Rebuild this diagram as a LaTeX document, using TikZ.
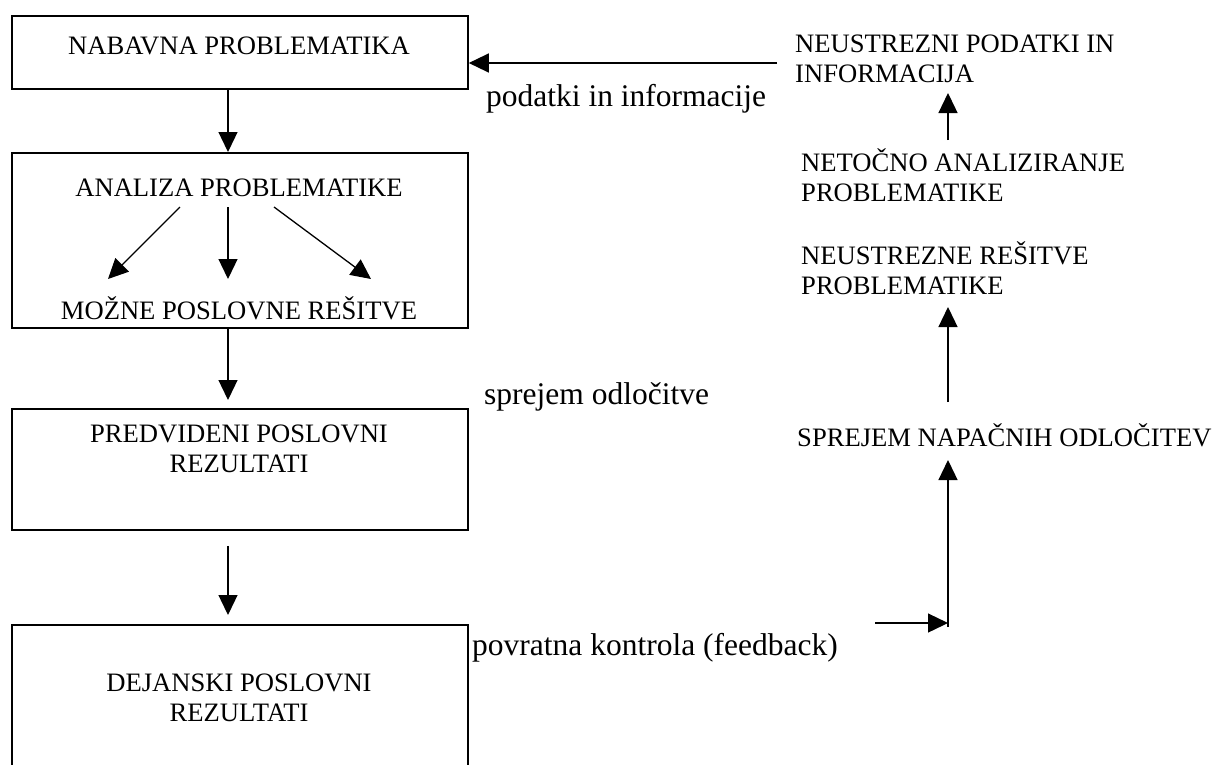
\documentclass[tikz,border=0pt]{standalone}
\usepackage{fontspec}
\setmainfont{Liberation Serif}
\usetikzlibrary{arrows.meta}
\begin{document}
\begin{tikzpicture}[x=1pt,y=-1pt,
  box/.style={draw, line width=1.8pt, inner sep=0pt, anchor=north west, minimum width=456pt},
  caps/.style={font=\fontsize{26.6}{29.5}\selectfont, inner sep=0pt, align=center, anchor=base},
  side/.style={font=\fontsize{26.6}{29.5}\selectfont, inner sep=0pt, align=left, anchor=base west},
  lbl/.style={font=\fontsize{31.5}{34}\selectfont, inner sep=0pt, anchor=base west},
  link/.style={line width=1.3pt},
  arr/.style={link, -{Triangle[length=20pt,width=19pt]}}
]
\useasboundingbox (0,0) rectangle (1220,764);
\clip (0,0) rectangle (1220,764);

% main column of boxes
\node[box, minimum height=73pt]  (b1) at (11,15)  {};
\node[box, minimum height=175pt] (b2) at (11,152) {};
\node[box, minimum height=121pt] (b3) at (11,408) {};
\node[box, minimum height=160pt] (b4) at (11,624) {};

% box texts (two-line nodes sit on the baseline of their last line)
\node[caps] (t1)  at (239,54)  {NABAVNA PROBLEMATIKA};
\node[caps] (t2)  at (239,196) {ANALIZA PROBLEMATIKE};
\node[caps] (t2b) at (239,319) {MOŽNE POSLOVNE REŠITVE};
\node[caps] (t3)  at (239,472) {PREDVIDENI POSLOVNI\\REZULTATI};
\node[caps] (t4)  at (239,721) {DEJANSKI POSLOVNI\\REZULTATI};

% axis of the downward arrows
\coordinate (c) at (228,0);
\draw[arr] (b1.south -| c) -- (b2.north -| c);
\draw[arr] (b2.south -| c) -- ([yshift=8pt]b3.north -| c);
\draw[arr] ([yshift=-15pt]b3.south -| c) -- ([yshift=9pt]b4.north -| c);

% branching inside the analysis box
\coordinate (s1) at (180,207); \coordinate (e1) at (108,279);
\coordinate (s2) at (228,207); \coordinate (e2) at (228,279);
\coordinate (s3) at (274,207); \coordinate (e3) at (371,279);
\draw[arr] (s1) -- (e1);
\draw[arr] (s2) -- (e2);
\draw[arr] (s3) -- (e3);

% labels between the columns
\node[lbl] (l1) at (486,106) {podatki in informacije};
\node[lbl] (l2) at (484,404) {sprejem odločitve};
\node[lbl] (l3) at (472,655) {povratna kontrola (feedback)};

% right column
\node[side] (r1) at (795,82)  {NEUSTREZNI PODATKI IN\\INFORMACIJA};
\node[side] (r2) at (801,201) {NETOČNO ANALIZIRANJE\\PROBLEMATIKE};
\node[side] (r3) at (801,294) {NEUSTREZNE REŠITVE\\PROBLEMATIKE};
\node[side] (r4) at (797,446) {SPREJEM NAPAČNIH ODLOČITEV};

% feedback loop
\coordinate (f0) at (777,63);
\draw[arr] (f0) -- (f0 -| b1.east);

\coordinate (v1a) at (948,140); \coordinate (v1b) at (948,93);
\draw[arr] (v1a) -- (v1b);

\coordinate (v2a) at (948,402); \coordinate (v2b) at (948,307);
\draw[arr] (v2a) -- (v2b);

\coordinate (v3a) at (948,627); \coordinate (v3b) at (948,460);
\draw[arr] (v3a) -- (v3b);

\coordinate (h0) at (875,623);
\draw[arr] (h0) -- (h0 -| v3a);
\end{tikzpicture}
\end{document}
